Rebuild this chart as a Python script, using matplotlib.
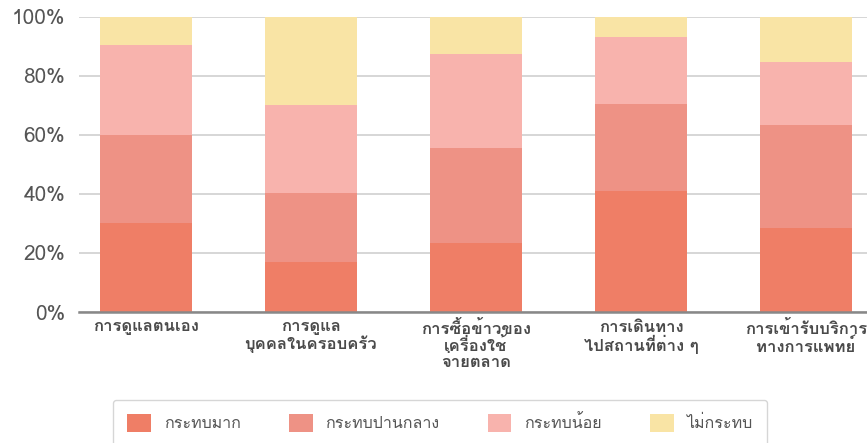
import matplotlib
matplotlib.use("Agg")
import matplotlib.pyplot as plt
from matplotlib import font_manager
from matplotlib.ft2font import FT2Font

# data (percent of respondents)
categories = ["การดูแลตนเอง", "การดูแล\nบุคคลในครอบครัว", "การซื้อข้าวของ\nเครื่องใช้\nจ่ายตลาด",
              "การเดินทาง\nไปสถานที่ต่าง ๆ", "การเข้ารับบริการ\nทางการแพทย์"]
series_names = ["กระทบมาก", "กระทบปานกลาง", "กระทบน้อย", "ไม่กระทบ"]
high = [30.3, 17.0, 23.4, 41.0, 28.5]
medium = [29.7, 23.3, 32.1, 29.4, 34.8]
low = [30.3, 29.7, 31.8, 22.6, 21.3]
none = [9.7, 30.0, 12.7, 7.0, 15.4]
colors = ["#EF7E66", "#EE9285", "#F8B3AD", "#F9E4A5"]

# find a font that can draw Thai
thai_font = None
for f in font_manager.fontManager.ttflist:
    try:
        if FT2Font(f.fname).get_char_index(ord("ก")):
            thai_font = f.name
            break
    except Exception:
        pass
fams = [thai_font, "DejaVu Sans"] if thai_font else ["DejaVu Sans"]
plt.rcParams["font.family"] = fams

fig = plt.figure(figsize=(8.67, 4.43), dpi=100)
ax = fig.add_axes([79 / 867, 1 - 312 / 443, 1 - 79 / 867, (312 - 16.7) / 443])

x = list(range(len(categories)))
bottom = [0] * len(categories)
for vals, name, c in zip([high, medium, low, none], series_names, colors):
    ax.bar(x, vals, bottom=bottom, width=0.56, color=c, label=name, zorder=2)
    bottom = [b + v for b, v in zip(bottom, vals)]

ax.set_ylim(0, 100)
ax.set_xlim(-0.406, 4.37)
ax.set_yticks([0, 20, 40, 60, 80, 100])
ax.set_yticklabels([f"{v}%" for v in [0, 20, 40, 60, 80, 100]])
ax.set_xticks(x)
ax.set_xticklabels(categories, fontsize=12, fontweight="bold", color="#4a4a4a", linespacing=1.0)
ax.tick_params(axis="y", labelsize=15, colors="#555555", length=0, pad=10)
ax.tick_params(axis="x", length=0, pad=6)
ax.grid(axis="y", color="#d0d0d0", linewidth=1.2, zorder=0)
for s in ["top", "right", "left"]:
    ax.spines[s].set_visible(False)
ax.spines["bottom"].set_color("#888888")
ax.spines["bottom"].set_linewidth(1.8)

leg = fig.legend(loc="upper center", bbox_to_anchor=(440 / 867, 43 / 443), ncol=4, fontsize=11.5,
                 frameon=True, fancybox=True, edgecolor="#cccccc", handlelength=1.5, handleheight=1.3,
                 columnspacing=3.0, borderpad=0.9, borderaxespad=0, labelcolor="#555555")
leg.get_frame().set_linewidth(1.0)

fig.savefig("out.png", dpi=100)
